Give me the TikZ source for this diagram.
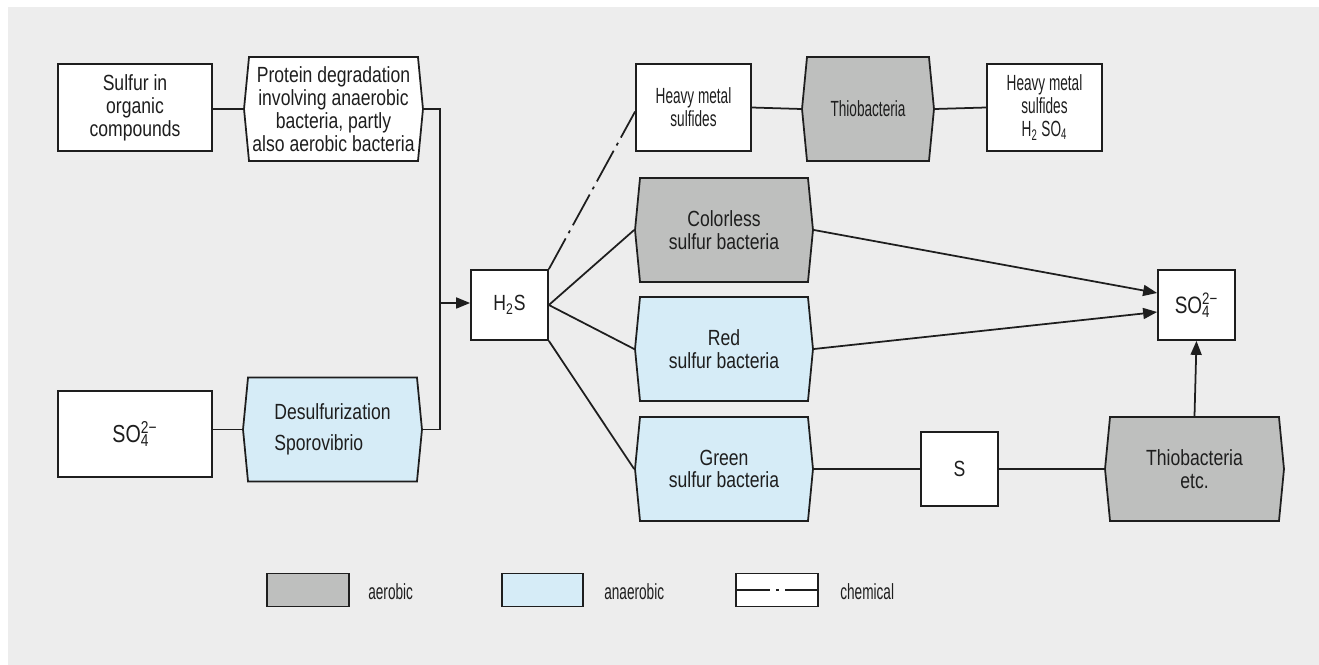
\documentclass[tikz,border=0pt]{standalone}
\usepackage{fontspec}
\setmainfont{Liberation Sans}[FakeStretch=0.8]
\newfontfamily\narrowfont{Liberation Sans}[FakeStretch=0.62]
\usetikzlibrary{shapes.symbols,arrows.meta}
\definecolor{bg}{RGB}{237,237,237}
\definecolor{aer}{RGB}{190,191,190}
\definecolor{anaer}{RGB}{214,236,247}
\definecolor{ink}{RGB}{30,30,30}
\def\sulfate{SO\rlap{\textsubscript{4}}\textsuperscript{2−}}

\begin{document}
\begin{tikzpicture}[x=0.02cm,y=-0.02cm,
    font=\fontsize{12.5}{13}\selectfont, text=ink,
    narrow/.style={font=\fontsize{12.5}{13}\narrowfont},
    box/.style={draw=ink,fill=white,line width=1pt,inner sep=0pt,align=center},
    bact/.style={shape=signal,signal to=west and east,signal pointer angle=169,
      draw=ink,line width=1pt,inner sep=0pt,align=center,
      minimum height=2.08cm,minimum width=3.58cm},
    aerob/.style={bact,fill=aer},
    anaerob/.style={bact,fill=anaer},
    plain/.style={bact,fill=white},
    link/.style={draw=ink,line width=1pt},
    chem/.style={link,dash pattern=on 0.7cm off 0.12cm on 0.06cm off 0.12cm},
    arr/.style={link,-{Triangle[length=0.28cm,width=0.22cm]}}]
    % canvas
    \fill[white] (0,0) rectangle (1319,665);
    \fill[bg] (8,7) rectangle (1319,665);
    \useasboundingbox (0,0) rectangle (1319,665);

    % sources of H2S
    \node[box,minimum width=3.08cm,minimum height=1.74cm] (orgs) at (135,107.5) {Sulfur in\\organic\\compounds};
    \node[plain] (protein) at (333.5,109) {Protein degradation\\involving anaerobic\\bacteria, partly\\also aerobic bacteria};
    \node[box,minimum width=3.08cm,minimum height=1.72cm,font=\fontsize{14}{15}\selectfont] (so4in) at (135,434) {\sulfate};
    \node[anaerob,align=left] (desulf) at (332.5,429.5) {Desulfurization\\[5pt]Sporovibrio};
    \node[box,minimum width=1.54cm,minimum height=1.4cm] (hs) at (509.5,305) {H\textsubscript{2}S};

    % oxidation paths
    \node[box,narrow,minimum width=2.3cm,minimum height=1.74cm] (metal) at (693.5,107.5) {Heavy metal\\sulfides};
    \node[aerob,narrow,minimum width=2.64cm] (thio) at (868,109) {Thiobacteria};
    \node[box,narrow,minimum width=2.3cm,minimum height=1.74cm] (metalacid) at (1044.5,107.5) {Heavy metal\\sulfides\\H\textsubscript{2}\,SO\textsubscript{4}};
    \node[aerob,minimum width=3.56cm] (colorless) at (724,230) {Colorless\\sulfur bacteria};
    \node[anaerob,minimum width=3.56cm] (red) at (724,349) {Red\\sulfur bacteria};
    \node[anaerob,minimum width=3.56cm] (green) at (724,469) {Green\\sulfur bacteria};
    \node[box,minimum width=1.54cm,minimum height=1.4cm,font=\fontsize{13.5}{15}\selectfont] (so4out) at (1196.5,305) {\sulfate};
    \node[box,minimum width=1.54cm,minimum height=1.48cm] (s) at (959.5,469) {S};
    \node[aerob] (thioetc) at (1194.5,469) {Thiobacteria\\etc.};

    % legend
    \node[box,fill=aer,minimum width=1.64cm,minimum height=0.66cm] (keyaer) at (308,590) {};
    \node[narrow,anchor=west,inner xsep=0pt] (keyaertxt) at (368,592) {aerobic};
    \node[box,fill=anaer,minimum width=1.62cm,minimum height=0.66cm] (keyanaer) at (542.5,590) {};
    \node[narrow,anchor=west,inner xsep=0pt] (keyanaertxt) at (604,592) {anaerobic};
    \node[box,minimum width=1.64cm,minimum height=0.66cm] (keychem) at (777,590) {};
    \node[narrow,anchor=west,inner xsep=0pt] (keychemtxt) at (840,592) {chemical};
    \draw[chem] (keychem.west) -- (keychem.east);

    % connectors
    \coordinate (join) at (440,303);
    \draw[link] (orgs.east |- protein.west) -- (protein.west);
    \draw[link] (protein.east) -| (join) |- (desulf.east);
    \draw[link] (desulf.west -| so4in.east) -- (desulf.west);
    \draw[arr] (join) -- (join -| hs.west);
    \draw[chem] (hs.north east) -- ([yshift=-0.08cm]metal.west);
    \draw[link] (hs.east) -- (colorless.west);
    \draw[link] (hs.east) -- (red.west);
    \draw[link] (hs.south east) -- (green.west);
    \draw[link] (metal.east) -- (thio.west);
    \draw[link] (thio.east) -- (metalacid.west);
    \draw[arr] (colorless.east) -- ([yshift=0.24cm]so4out.west);
    \draw[arr] (red.east) -- ([yshift=-0.14cm]so4out.west);
    \draw[link] (green.east) -- (s.west);
    \draw[link] (s.east) -- (thioetc.west);
    \draw[arr] (thioetc.north) -- (so4out.south);
\end{tikzpicture}
\end{document}
